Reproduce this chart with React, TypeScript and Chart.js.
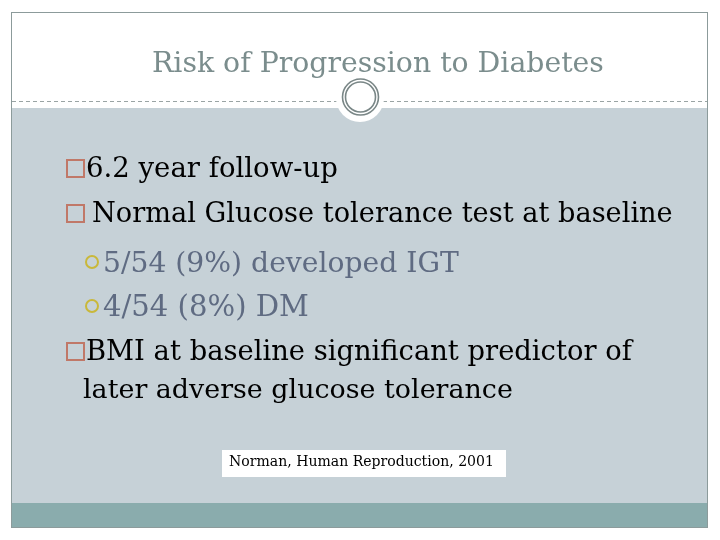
import React, { useEffect, useRef } from 'react';
import { Chart, registerables } from 'chart.js';

Chart.register(...registerables);

// slide text
const titleText = 'Risk of Progression to Diabetes';
const bulletLines = [
  '6.2 year follow-up',
  'Normal Glucose tolerance test at baseline',
  '5/54 (9%) developed IGT',
  '4/54 (8%) DM',
  'BMI at baseline significant predictor of',
  'later adverse glucose tolerance',
];
// 1 = square bullet, 2 = round sub-bullet, 0 = wrapped continuation
const bulletLevels = [1, 1, 2, 2, 1, 0];
const citationText = 'Norman, Human Reproduction, 2001';

// where each line sits: text x, baseline, target text width
const lineLayout = [
  { x: 86, y: 177, w: 252 },
  { x: 92, y: 222, w: 581 },
  { x: 103, y: 272, w: 356 },
  { x: 103, y: 316, w: 206 },
  { x: 86, y: 360, w: 546 },
  { x: 83, y: 398, w: 430 },
];

const FONT = '"DejaVu Serif", "Liberation Serif", serif';

function fitText(ctx: CanvasRenderingContext2D, text: string, x: number, y: number, width: number) {
  ctx.font = `20px ${FONT}`;
  const size = (20 * width) / ctx.measureText(text).width;
  ctx.font = `${size}px ${FONT}`;
  ctx.fillText(text, x, y);
}

const slidePlugin = {
  id: 'slide',
  beforeDraw(chart: Chart) {
    const ctx = chart.ctx;
    ctx.save();
    ctx.textBaseline = 'alphabetic';
    ctx.textAlign = 'left';

    ctx.fillStyle = '#ffffff';
    ctx.fillRect(0, 0, chart.width, chart.height);

    // body + footer band
    ctx.fillStyle = '#c6d1d7';
    ctx.fillRect(12, 108, 695, 395);
    ctx.fillStyle = '#8aacad';
    ctx.fillRect(12, 503, 695, 24);

    ctx.strokeStyle = '#8c9b9b';
    ctx.lineWidth = 1;
    ctx.strokeRect(11.5, 12.5, 696, 515);

    // dashed divider
    ctx.setLineDash([4, 3]);
    ctx.strokeStyle = '#9aa4a4';
    ctx.beginPath();
    ctx.moveTo(12, 101.5);
    ctx.lineTo(707, 101.5);
    ctx.stroke();
    ctx.setLineDash([]);

    // ring ornament
    ctx.fillStyle = '#ffffff';
    ctx.beginPath();
    ctx.arc(360, 98, 24, 0, Math.PI * 2);
    ctx.fill();
    ctx.strokeStyle = '#7a8787';
    ctx.lineWidth = 1.6;
    [18, 15].forEach((r) => {
      ctx.beginPath();
      ctx.arc(360.5, 97, r, 0, Math.PI * 2);
      ctx.stroke();
    });

    // title
    ctx.fillStyle = '#7b8d8d';
    fitText(ctx, titleText, 152, 72, 452);

    // bullets
    bulletLines.forEach((line, i) => {
      const lay = lineLayout[i];
      const level = bulletLevels[i];
      if (level === 1) {
        ctx.strokeStyle = '#c07868';
        ctx.lineWidth = 2;
        ctx.strokeRect(67, lay.y - 17, 17, 17);
      } else if (level === 2) {
        ctx.strokeStyle = '#c9b83a';
        ctx.lineWidth = 2;
        ctx.beginPath();
        ctx.arc(92, lay.y - 10, 6, 0, Math.PI * 2);
        ctx.stroke();
      }
      ctx.fillStyle = level === 2 ? '#5f6b82' : '#000000';
      fitText(ctx, line, lay.x, lay.y, lay.w);
    });

    // citation box
    ctx.fillStyle = '#ffffff';
    ctx.fillRect(222, 450, 284, 27);
    ctx.fillStyle = '#000000';
    fitText(ctx, citationText, 229, 466, 265);

    ctx.restore();
  },
};

export default function App() {
  const chartRef = useRef<HTMLCanvasElement>(null);
  const chartInstance = useRef<Chart | null>(null);

  useEffect(() => {
    document.body.style.margin = '0';
    if (chartRef.current) {
      const ctx = chartRef.current.getContext('2d');
      if (ctx) {
        if (chartInstance.current) {
          chartInstance.current.destroy();
        }
        chartInstance.current = new Chart(ctx, {
          type: 'scatter',
          data: { datasets: [] },
          options: {
            animation: false,
            responsive: true,
            maintainAspectRatio: false,
            events: [],
            layout: { padding: 0 },
            plugins: {
              legend: { display: false },
              tooltip: { enabled: false },
            },
            scales: {
              x: { display: false },
              y: { display: false },
            },
          },
          plugins: [slidePlugin],
        });
      }
    }
    return () => {
      if (chartInstance.current) {
        chartInstance.current.destroy();
        chartInstance.current = null;
      }
    };
  }, []);

  return (
    <div style={{ width: 720, height: 540, position: 'relative' }}>
      <canvas ref={chartRef}></canvas>
    </div>
  );
}
